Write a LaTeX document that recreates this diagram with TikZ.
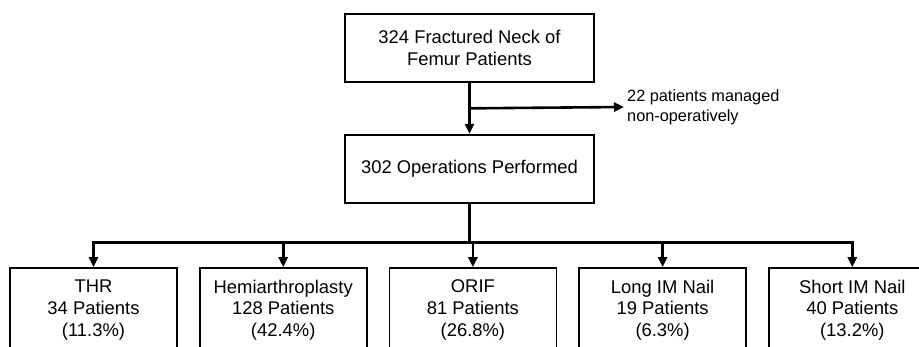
\documentclass[tikz,border=0pt]{standalone}
\usepackage{fontspec}
\setmainfont{Liberation Sans}
\usetikzlibrary{arrows.meta, positioning, calc}

\begin{document}
\begin{tikzpicture}[x=1pt,y=1pt,
    box/.style={rectangle,draw=black,line width=1.7pt,fill=white,align=center,
        font=\fontsize{18.4}{21.7}\selectfont,inner sep=2pt},
    bigbox/.style={box,minimum width=249pt,minimum height=68pt},
    leafbox/.style={box,minimum width=167pt,minimum height=84pt},
    conn/.style={line width=2.6pt,-{Triangle[length=10pt,width=9pt]}}]
    \clip (0,0) rectangle (919,-347);
    \useasboundingbox (0,0) rectangle (919,-347);

    % Patients and operations
    \node[bigbox] (femur) at (469.5,-48) {324 Fractured Neck of\\Femur Patients};
    \node[bigbox,below=51pt of femur] (ops) {302 Operations Performed};
    \node[anchor=west,align=left,inner sep=3pt,
        font=\fontsize{16.3}{20}\selectfont] (nonop) at (624,-107)
        {22 patients managed\\non-operatively};

    % Types of operation
    \node[leafbox] (thr) at (93.5,-310) {THR\\34 Patients\\(11.3\%)};
    \node[leafbox,right=21pt of thr] (hemi) {Hemiarthroplasty\\128 Patients\\(42.4\%)};
    \node[leafbox,right=21pt of hemi] (orif) {ORIF\\81 Patients\\(26.8\%)};
    \node[leafbox,right=21pt of orif] (longnail) {Long IM Nail\\19 Patients\\(6.3\%)};
    \node[leafbox,right=21pt of longnail] (shortnail) {Short IM Nail\\40 Patients\\(13.2\%)};

    % Connectors
    \draw[conn] (femur.south) -- (ops.north);
    \coordinate (split) at ($(femur.south)!0.5!(ops.north)$);
    \draw[conn] (split) -- (nonop.west);
    \coordinate (bar) at ($(ops.south)+(0,-39)$);
    \foreach \leaf in {thr,hemi,orif,longnail,shortnail}
        \draw[conn] (ops.south) -- (bar) -| (\leaf.north);
\end{tikzpicture}
\end{document}
